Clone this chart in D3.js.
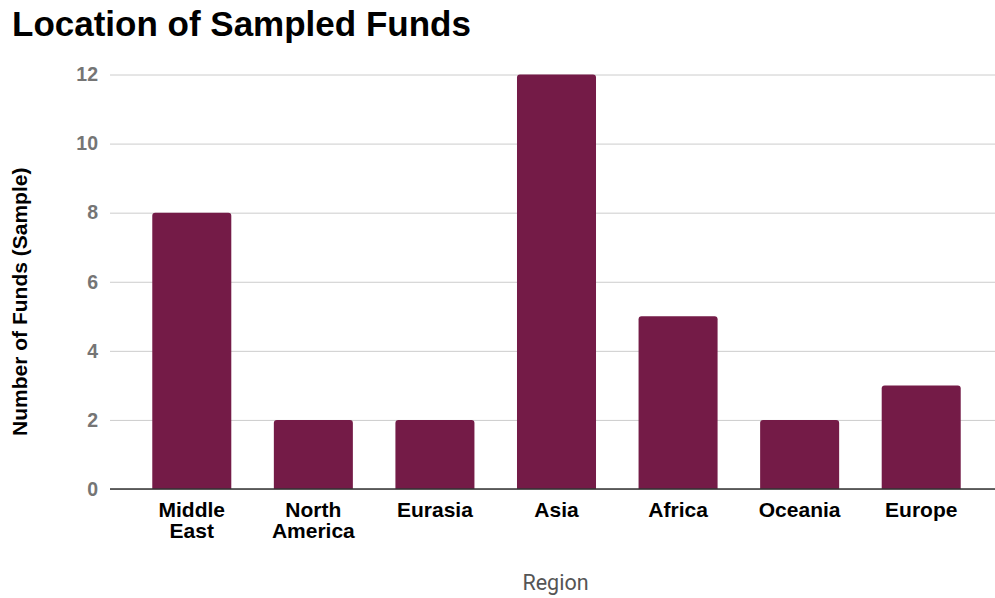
<!DOCTYPE html>
<html>
<head>
<meta charset="utf-8">
<script src="https://cdn.jsdelivr.net/npm/d3@7"></script>
<style>
  html, body { margin: 0; padding: 0; background: #fff; }
  svg { display: block; }
</style>
</head>
<body>
<svg id="chart" width="995" height="598"></svg>
<script>
// Fund counts by region
const regions = ["Middle East", "North America", "Eurasia", "Asia", "Africa", "Oceania", "Europe"];
const fundCounts = [8, 2, 2, 12, 5, 2, 3];
const yTicks = [0, 2, 4, 6, 8, 10, 12];

const W = 995, H = 598;
const plot = { left: 110, right: 995, top: 74.5, bottom: 489 };
const barColor = "#741b47";

const svg = d3.select("#chart");

const x = d3.scaleBand()
  .domain(regions)
  .range([131, 982])
  .paddingInner(0.35)
  .paddingOuter(0.175);

const y = d3.scaleLinear()
  .domain([0, 12])
  .range([plot.bottom, plot.top]);

// Title
svg.append("text")
  .attr("x", 12)
  .attr("y", 36)
  .attr("font-family", "Liberation Sans, Arial, sans-serif")
  .attr("font-weight", "bold")
  .attr("font-size", 35)
  .attr("fill", "#000")
  .text("Location of Sampled Funds");

// Gridlines and y tick labels
const yAxis = d3.axisLeft(y)
  .tickValues(yTicks)
  .tickSize(-(plot.right - plot.left))
  .tickPadding(12)
  .tickFormat(d3.format("d"));

const gy = svg.append("g")
  .attr("transform", `translate(${plot.left},0)`)
  .call(yAxis);
gy.select(".domain").remove();
gy.selectAll(".tick line").attr("stroke", "#cccccc").attr("stroke-width", 1);
gy.selectAll(".tick text")
  .attr("font-family", "Liberation Sans, Arial, sans-serif")
  .attr("font-weight", "bold")
  .attr("font-size", 19.5)
  .attr("fill", "#757575");

// Bars with slightly rounded top corners
const r = 3;
svg.append("g")
  .selectAll("path")
  .data(regions.map((name, i) => ({ name, value: fundCounts[i] })))
  .join("path")
  .attr("fill", barColor)
  .attr("d", d => {
    const x0 = x(d.name), x1 = x0 + x.bandwidth();
    const y0 = y(d.value), y1 = y(0);
    return `M${x0},${y1}V${y0 + r}Q${x0},${y0} ${x0 + r},${y0}H${x1 - r}Q${x1},${y0} ${x1},${y0 + r}V${y1}Z`;
  });

// Baseline
svg.append("line")
  .attr("x1", plot.left).attr("x2", plot.right)
  .attr("y1", y(0)).attr("y2", y(0))
  .attr("stroke", "#333333")
  .attr("stroke-width", 1.5);

// Category labels (wrapped onto two lines where needed)
const xAxis = d3.axisBottom(x).tickSize(0).tickPadding(0);
const gx = svg.append("g")
  .attr("transform", `translate(0,${y(0)})`)
  .call(xAxis);
gx.select(".domain").remove();
gx.selectAll(".tick text")
  .attr("font-family", "Liberation Sans, Arial, sans-serif")
  .attr("font-weight", "bold")
  .attr("font-size", 21)
  .attr("fill", "#000")
  .attr("y", 0)
  .attr("dy", null)
  .each(function (d) {
    const words = d.split(" ");
    const t = d3.select(this).text(null);
    words.forEach((w, i) => {
      t.append("tspan")
        .attr("x", 0)
        .attr("y", 28 + i * 21)
        .text(w);
    });
  });

// Axis titles
svg.append("text")
  .attr("x", (plot.left + plot.right) / 2 + 3)
  .attr("y", 590)
  .attr("text-anchor", "middle")
  .attr("font-family", "Roboto, sans-serif")
  .attr("font-size", 21.5)
  .attr("fill", "#555555")
  .text("Region");

svg.append("text")
  .attr("transform", `translate(27,${(plot.top + plot.bottom) / 2 + 20}) rotate(-90)`)
  .attr("text-anchor", "middle")
  .attr("font-family", "Liberation Sans, Arial, sans-serif")
  .attr("font-weight", "bold")
  .attr("font-size", 21)
  .attr("fill", "#000")
  .text("Number of Funds (Sample)");
</script>
</body>
</html>
